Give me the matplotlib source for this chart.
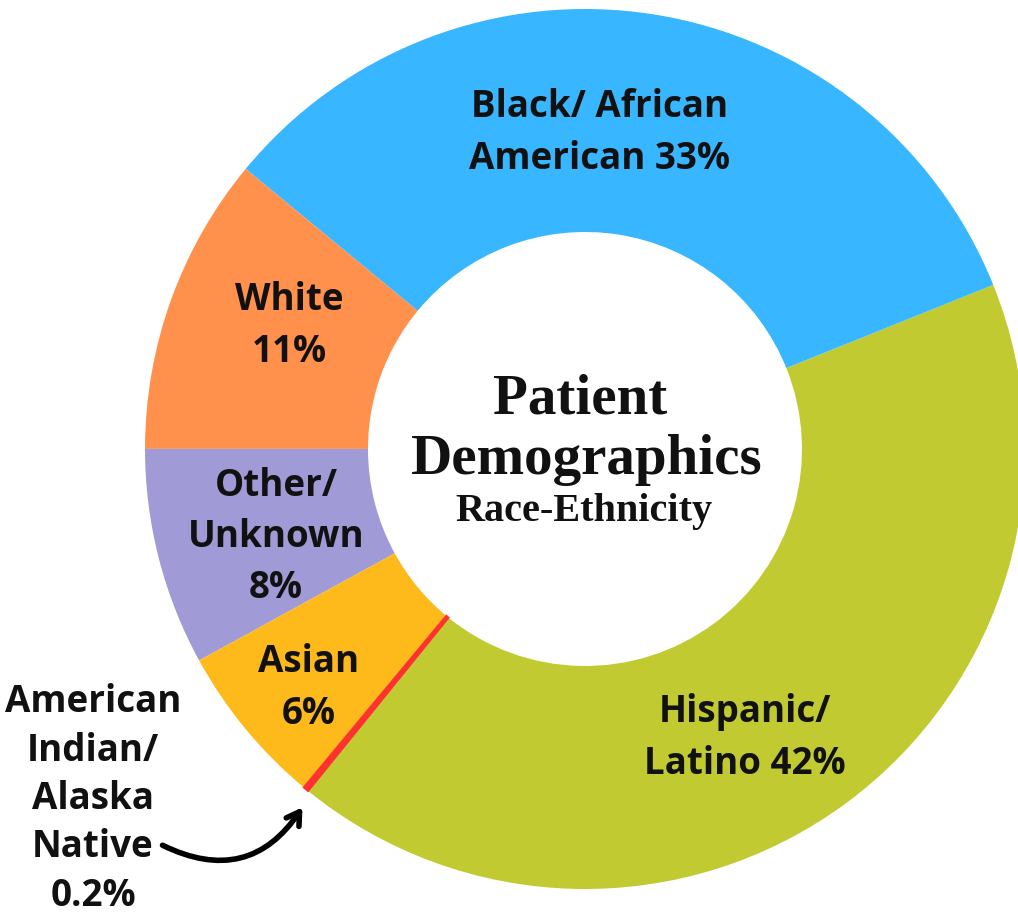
import matplotlib.pyplot as plt

# data
groups = ['Hispanic/\nLatino', 'Black/ African\nAmerican', 'White', 'Other/\nUnknown',
          'Asian', 'American\nIndian/\nAlaska\nNative']
shares = [42, 33, 11, 8, 6, 0.2]
colors = ['#C1CB31', '#38B6FF', '#FF914D', '#A09BD6', '#FDBA1A', '#FF3131']

W, H = 1018, 920


def py(y):
    # pixel row (from top) -> data y
    return H - y


fig = plt.figure(figsize=(W / 100, H / 100), dpi=100)
ax = fig.add_axes([0, 0, 1, 1])

cx, cy, R = 585, 450, 440
wedges, _ = ax.pie(shares, colors=colors, startangle=-129, counterclock=True,
                   center=(cx, py(cy)), radius=R,
                   wedgeprops=dict(width=R - 217, linewidth=0))
wedges[-1].set_edgecolor(colors[-1])
wedges[-1].set_linewidth(1.5)

ax.set_xlim(0, W)
ax.set_ylim(0, H)
ax.set_aspect('equal')
ax.axis('off')

lab = dict(fontsize=26.5, fontweight='bold', family='Open Sans', color='#111111',
           ha='center', va='center', linespacing=1.45)

# label text and where it sits (pixel coords)
texts = [
    ('Hispanic/\nLatino 42%', 745, 738),
    ('Black/ African\nAmerican 33%', 600, 133),
    ('White\n11%', 289, 326),
    ('Other/\nUnknown\n8%', 276, 537),
    ('Asian\n6%', 309, 688),
]
for t, x, y in texts:
    ax.text(x, py(y), t, **lab)

# the small group sits outside the ring, pointed at with an arrow
lab_out = dict(lab, linespacing=1.36)
ax.text(93, py(799), 'American\nIndian/\nAlaska\nNative\n0.2%', **lab_out)

serif = dict(family='Liberation Serif', fontweight='bold', color='#111111',
             ha='center', va='center')
ax.text(580, py(400), 'Patient', fontsize=41, **serif)
ax.text(587, py(460), 'Demographics', fontsize=41, **serif)
ax.text(584, py(512), 'Race-Ethnicity', fontsize=29, **serif)

ax.annotate('', xy=(304, py(806)), xytext=(160, py(845)),
            arrowprops=dict(arrowstyle='->,head_length=0.9,head_width=0.55',
                            color='black', lw=4,
                            connectionstyle='arc3,rad=0.45'))

fig.savefig('out.png', dpi=100)
